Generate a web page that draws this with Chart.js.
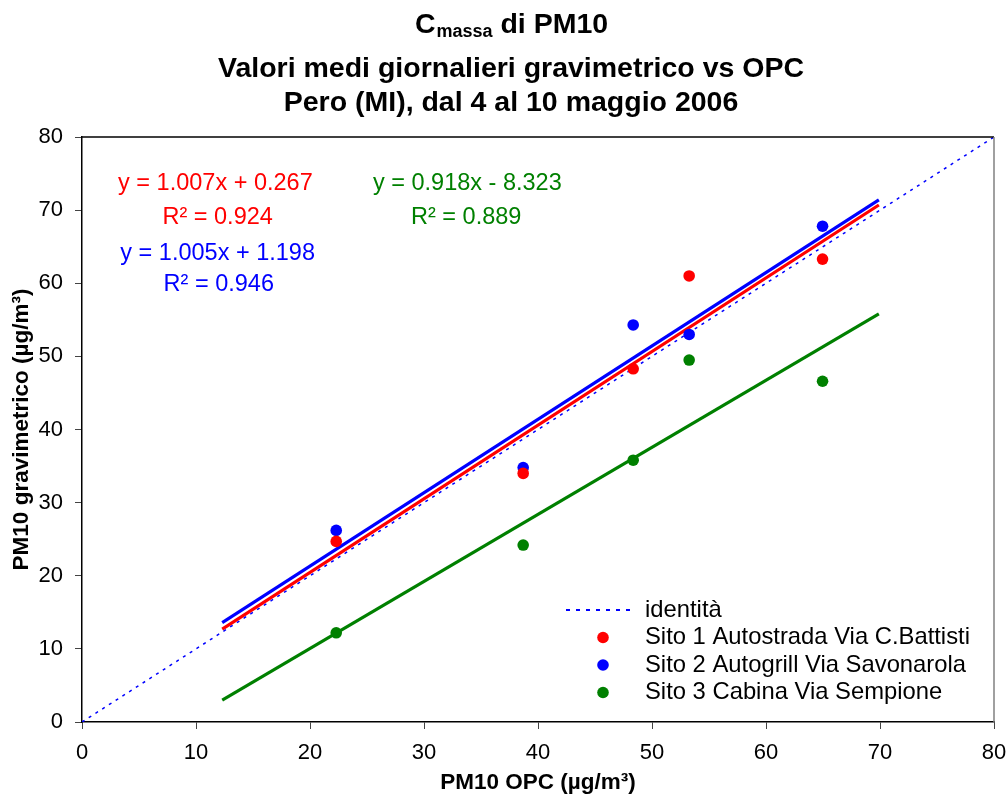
<!DOCTYPE html>
<html>
<head>
<meta charset="utf-8">
<script src="https://cdn.jsdelivr.net/npm/chart.js@4/dist/chart.umd.min.js"></script>
<style>
  body { margin: 0; background: #fff; }
  #chart { display: block; }
</style>
</head>
<body>
<canvas id="chart" width="1007" height="796"></canvas>
<script>
// values
const opcValues = [22.3, 38.7, 48.35, 53.26, 64.96];
const sito1Values = [24.7, 34.0, 48.3, 61.0, 63.3];
const sito2Values = [26.2, 34.8, 54.3, 53.0, 67.8];
const sito3Values = [12.2, 24.2, 35.8, 49.5, 46.6];
const seriesLabels = ['Sito 1 Autostrada Via C.Battisti', 'Sito 2 Autogrill Via Savonarola', 'Sito 3 Cabina Via Sempione'];
const seriesColors = ['#ff0000', '#0000ff', '#008000'];

// trend lines (start / end points as drawn)
const trendX = [12.3, 69.9];
const trendStartY = [12.7, 13.6, 3.0];
const trendEndY = [70.7, 71.4, 55.8];
const eqLabels = ['y = 1.007x + 0.267', 'y = 1.005x + 1.198', 'y = 0.918x - 8.323'];
const r2Labels = ['R² = 0.924', 'R² = 0.946', 'R² = 0.889'];

const identityX = [0, 80];
const identityY = [0, 80];
const identityLabel = 'identità';

const titleLines = ['Valori medi giornalieri gravimetrico vs OPC', 'Pero (MI), dal 4 al 10 maggio 2006'];
const xTitle = 'PM10 OPC (µg/m³)';
const yTitle = 'PM10 gravimetrico (µg/m³)';

const FONT = '"Liberation Sans", Arial, sans-serif';

const pts = ys => ys.map((y, i) => ({x: opcValues[i], y}))

const datasets = []
seriesColors.forEach((color, i) => {
    datasets.push({
        label: 'trend' + i,
        data: [{x: trendX[0], y: trendStartY[i]}, {x: trendX[1], y: trendEndY[i]}],
        showLine: true,
        borderColor: color,
        borderWidth: 3.2,
        pointRadius: 0,
        order: 3
    })
})
datasets.push({
    label: identityLabel,
    data: identityX.map((x, i) => ({x, y: identityY[i]})),
    showLine: true,
    borderColor: '#0000ff',
    borderWidth: 1.5,
    borderDash: [3, 5],
    pointRadius: 0,
    order: 2,
    legend: true
});
[sito1Values, sito2Values, sito3Values].forEach((vals, i) => {
    datasets.push({
        label: seriesLabels[i],
        data: pts(vals),
        backgroundColor: seriesColors[i],
        borderColor: seriesColors[i],
        pointRadius: 5.8,
        borderWidth: 0,
        order: 1,
        legend: true
    })
})

// equation annotations, positions in data units
const annotationPos = [
    {eq: [11.7, 73.7], r2: [11.9, 69.0]},
    {eq: [11.9, 64.1], r2: [12.0, 59.8]},
    {eq: [33.8, 73.7], r2: [33.7, 69.0]}
]

const extrasPlugin = {
    id: 'extras',
    afterDraw(chart) {
        const ctx = chart.ctx
        const area = chart.chartArea
        const xs = chart.scales.x, ys = chart.scales.y
        ctx.save()

        // top / right frame
        ctx.lineWidth = 1.5
        ctx.strokeStyle = '#000'
        ctx.beginPath()
        ctx.moveTo(area.left, area.top)
        ctx.lineTo(area.right, area.top)
        ctx.stroke()
        ctx.strokeStyle = '#808080'
        ctx.beginPath()
        ctx.moveTo(area.right, area.top)
        ctx.lineTo(area.right, area.bottom)
        ctx.stroke()

        // title
        ctx.fillStyle = '#000'
        ctx.textBaseline = 'alphabetic'
        ctx.textAlign = 'left'
        const cx = 511
        const big = 'bold 28.5px ' + FONT, small = 'bold 18px ' + FONT
        ctx.font = big
        const wC = ctx.measureText('C').width
        const wRest = ctx.measureText(' di PM10').width
        ctx.font = small
        const wSub = ctx.measureText('massa').width
        let x0 = cx - (wC + wSub + wRest) / 2
        ctx.font = big
        ctx.fillText('C', x0, 33)
        ctx.font = small
        ctx.fillText('massa', x0 + wC + 1, 37)
        ctx.font = big
        ctx.fillText(' di PM10', x0 + wC + wSub + 1, 33)
        ctx.textAlign = 'center'
        ctx.fillText(titleLines[0], cx, 77)
        ctx.fillText(titleLines[1], cx, 111)

        // equations
        ctx.font = '23.5px ' + FONT
        ctx.textBaseline = 'middle'
        annotationPos.forEach((p, i) => {
            ctx.fillStyle = seriesColors[i]
            ctx.fillText(eqLabels[i], xs.getPixelForValue(p.eq[0]), ys.getPixelForValue(p.eq[1]))
            ctx.fillText(r2Labels[i], xs.getPixelForValue(p.r2[0]), ys.getPixelForValue(p.r2[1]))
        })

        // legend inside plot
        const lx = area.right - 428
        let ly = area.bottom - 112
        ctx.font = '23.8px ' + FONT
        ctx.textAlign = 'left'
        chart.data.datasets.filter(d => d.legend).forEach(d => {
            if (d.showLine) {
                ctx.strokeStyle = d.borderColor
                ctx.lineWidth = 2
                ctx.setLineDash([4, 6])
                ctx.beginPath()
                ctx.moveTo(lx, ly)
                ctx.lineTo(lx + 70, ly)
                ctx.stroke()
                ctx.setLineDash([])
            } else {
                ctx.fillStyle = d.backgroundColor
                ctx.beginPath()
                ctx.arc(lx + 37, ly, 5.8, 0, Math.PI * 2)
                ctx.fill()
            }
            ctx.fillStyle = '#000'
            ctx.fillText(d.label, lx + 79, ly)
            ly += 27.5
        })
        ctx.restore()
    }
}

const axisCommon = {
    type: 'linear',
    min: 0,
    max: 80,
    ticks: {stepSize: 10, color: '#000', font: {family: FONT, size: 22}},
    grid: {display: true, drawOnChartArea: false, drawTicks: true, tickLength: 7, color: '#444'},
    border: {display: true, color: '#000', width: 1.5}
}

window.onload = () => {
    new Chart(document.getElementById('chart'), {
        type: 'scatter',
        data: {datasets},
        options: {
            responsive: false,
            animation: false,
            layout: {padding: {top: 137, right: 13, left: 0, bottom: 0}},
            plugins: {legend: {display: false}, tooltip: {enabled: false}, title: {display: false}},
            scales: {
                x: {
                    ...axisCommon,
                    ticks: {...axisCommon.ticks, padding: 11, maxRotation: 0},
                    title: {display: true, text: xTitle, color: '#000', font: {family: FONT, size: 22.5, weight: 'bold'}, padding: {top: 0, bottom: 0}},
                    afterFit: s => { s.height = 74; s.paddingRight = 0; s.paddingLeft = 0 }
                },
                y: {
                    ...axisCommon,
                    ticks: {...axisCommon.ticks, padding: 12},
                    title: {display: true, text: yTitle, color: '#000', font: {family: FONT, size: 22.5, weight: 'bold'}, padding: {top: 8, bottom: 0}},
                    afterFit: s => { s.width = 82; s.paddingTop = 0; s.paddingBottom = 0 }
                }
            }
        },
        plugins: [extrasPlugin]
    })
}
</script>
</body>
</html>
